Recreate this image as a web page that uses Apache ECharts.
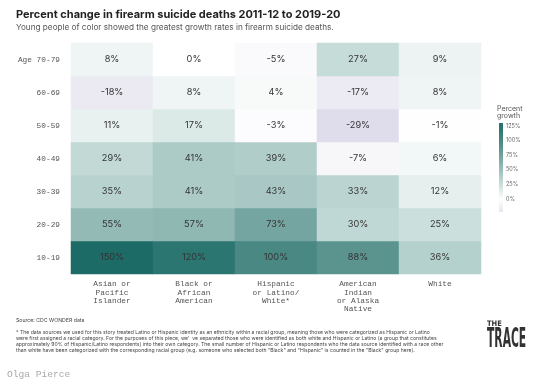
<!DOCTYPE html>
<html><head><meta charset="utf-8">
<script src="https://cdn.jsdelivr.net/npm/echarts@6/dist/echarts.min.js"></script>
<style>html,body{margin:0;padding:0;background:#fff}#c{width:543px;height:387px}</style>
</head><body><div id="c"></div>
<script>
const groups = ['Asian or\nPacific\nIslander','Black or\nAfrican\nAmerican','Hispanic\nor Latino/\nWhite*','American\nIndian\nor Alaska\nNative','White'];
const ages = ['10-19','20-29','30-39','40-49','50-59','60-69','70-79'];
// values per group, listed from age 10-19 up to 70-79
const asian    = [150, 55, 35, 29, 11, -18, 8];
const black    = [120, 57, 41, 41, 17, 8, 0];
const hispanic = [100, 73, 43, 39, -3, 4, -5];
const aian     = [88, 30, 33, -7, -29, -17, 27];
const white    = [36, 25, 12, 6, -1, 8, 9];
const legendTicks = [0, 25, 50, 75, 100, 125];
const colorStops = ['#dedbea','#ffffff','#c0d8d5','#8ab4af','#58918c','#2b7670','#1d6b66'];
const cMin = -30, cMax = 150;

const series = [asian, black, hispanic, aian, white];
const data = [];
series.forEach((vals, gi) => vals.forEach((v, ai) => data.push([gi, ai, v])));

const chart = echarts.init(document.getElementById('c'));
const mono = '"Liberation Mono", "DejaVu Sans Mono", monospace';
const sans = 'Inter, "Noto Sans", sans-serif';

// legend geometry
const lgX = 499, lgTop = 123, lgBot = 212, lgMin = -22, lgMax = 130;
const yOf = v => lgBot - (v - lgMin) / (lgMax - lgMin) * (lgBot - lgTop);
function colorAt(v){
  const t = (v - cMin) / (cMax - cMin) * (colorStops.length - 1);
  const i = Math.max(0, Math.min(colorStops.length - 2, Math.floor(t)));
  const f = Math.max(0, Math.min(1, t - i));
  const a = echarts.color.parse(colorStops[i]), b = echarts.color.parse(colorStops[i+1]);
  return 'rgb(' + [0,1,2].map(k => Math.round(a[k] + (b[k]-a[k])*f)).join(',') + ')';
}
const gradStops = [];
for (let k = 0; k <= 20; k++) {
  const v = lgMax - k / 20 * (lgMax - lgMin);
  gradStops.push({offset: k / 20, color: colorAt(v)});
}

const graphics = [
  {type:'text', left:16, top:9, style:{text:'Percent change in firearm suicide deaths 2011-12 to 2019-20', font:'bold 11px '+sans, fill:'#222'}},
  {type:'text', left:16, top:24, style:{text:'Young people of color showed the greatest growth rates in firearm suicide deaths.', font:'8.2px '+sans, fill:'#555'}},
  {type:'text', left:497, top:105, style:{text:'Percent\ngrowth', font:'7px '+sans, fill:'#555', lineHeight:7}},
  {type:'rect', shape:{x:lgX, y:lgTop, width:4, height:lgBot-lgTop}, style:{fill:new echarts.graphic.LinearGradient(0,0,0,1,gradStops)}},
  {type:'text', left:16, top:318, style:{text:'Source: CDC WONDER data', font:'5.2px '+sans, fill:'#444'}},
  {type:'text', left:16, top:329, style:{text:'* The data sources we used for this story treated Latino or Hispanic identity as an ethnicity within a racial group, meaning those who were categorized as Hispanic or Latino\nwere first assigned a racial category. For the purposes of this piece, we\'  ve separated those who were identified as both white and Hispanic or Latino (a group that constitutes\napproximately 90% of Hispanic/Latino respondents) into their own category. The small number of Hispanic or Latino respondents who the data source identified with a race other\nthan white have been categorized with the corresponding racial group (e.g. someone who selected both "Black" and "Hispanic" is counted in the "Black" group here).', font:'5.1px '+sans, fill:'#444', lineHeight:6}},
  {type:'text', left:487, top:320, style:{text:'THE', font:'bold 7.5px "DejaVu Sans Condensed", sans-serif', fill:'#333'}},
  {type:'text', x:487, y:327, scaleX:0.46, style:{text:'TRACE', font:'bold 26px "DejaVu Sans Condensed", sans-serif', fill:'#333'}},
  {type:'text', left:7, top:369, style:{text:'Olga Pierce', font:'9.6px '+mono, fill:'#aaa'}}
];
legendTicks.forEach(t => graphics.push({type:'text', x:506, y:yOf(t), style:{text:t+'%', font:'5.5px '+sans, fill:'#666', verticalAlign:'middle'}}));

chart.setOption({
  animation:false,
  backgroundColor:'#fff',
  grid:{left:71, top:43, width:410, height:231},
  xAxis:{type:'category', data:groups, axisLine:{show:false}, axisTick:{show:false}, splitLine:{show:false},
    axisLabel:{fontFamily:mono, fontSize:7.8, color:'#555', lineHeight:8.3, margin:6}},
  yAxis:{type:'category', data:ages, axisLine:{show:false}, axisTick:{show:false}, splitLine:{show:false},
    axisLabel:{fontFamily:mono, fontSize:7.8, color:'#555', margin:11, formatter:v => v==='70-79' ? 'Age '+v : v}},
  visualMap:{show:false, min:cMin, max:cMax, dimension:2, inRange:{color:colorStops}},
  series:[{type:'heatmap', data:data, itemStyle:{borderWidth:0},
    label:{show:true, formatter:p => p.value[2]+'%', fontFamily:sans, fontSize:9.2, color:'#333'},
    emphasis:{disabled:true}}],
  graphic:graphics
});
</script></body></html>
